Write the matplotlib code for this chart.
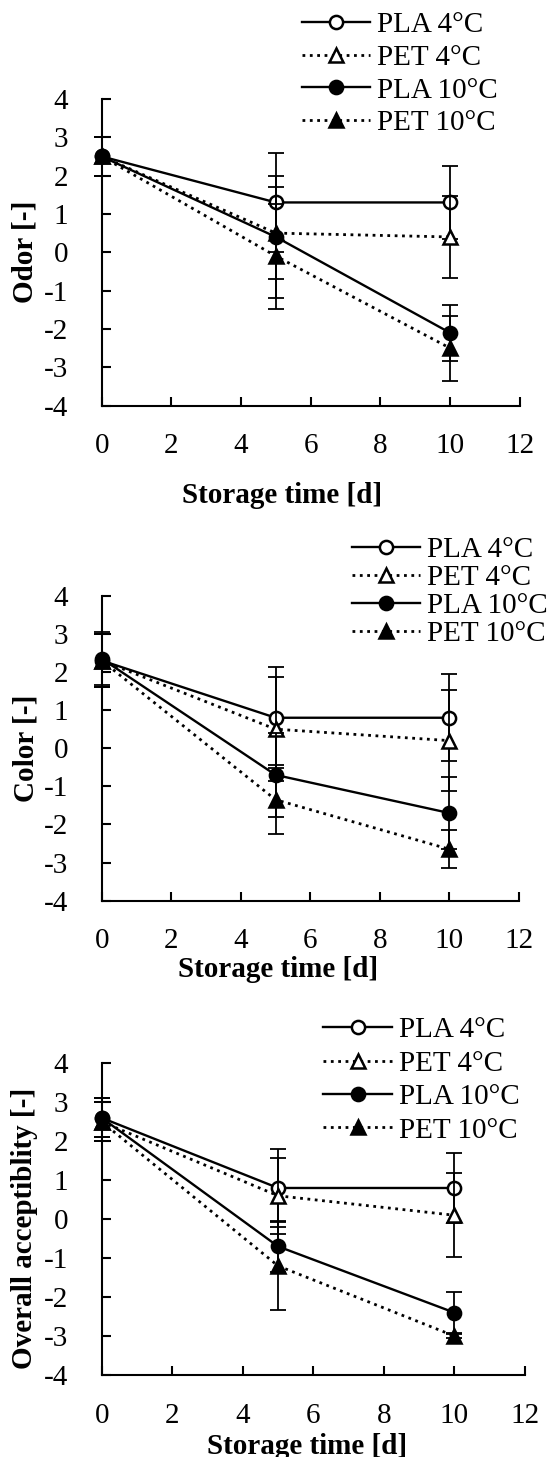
import matplotlib
matplotlib.use("Agg")
import matplotlib.pyplot as plt

plt.rcParams["font.family"] = ["Liberation Serif", "DejaVu Serif"]
plt.rcParams["axes.unicode_minus"] = False

days = [0, 5, 10]
series_labels = ["PLA 4°C", "PET 4°C", "PLA 10°C", "PET 10°C"]

# odor scores and standard deviations
odor_pla4 = [2.5, 1.3, 1.3]
odor_pla4_sd = [0.5, 1.3, 0.95]
odor_pet4 = [2.5, 0.5, 0.4]
odor_pet4_sd = [0.5, 1.2, 1.08]
odor_pla10 = [2.5, 0.4, -2.1]
odor_pla10_sd = [0.5, 1.6, 0.73]
odor_pet10 = [2.5, -0.1, -2.5]
odor_pet10_sd = [0.5, 1.37, 0.85]

# color scores
color_pla4 = [2.3, 0.8, 0.8]
color_pla4_sd = [0.7, 1.32, 1.14]
color_pet4 = [2.3, 0.5, 0.2]
color_pet4_sd = [0.7, 1.37, 1.32]
color_pla10 = [2.35, -0.7, -1.7]
color_pla10_sd = [0.7, 1.1, 0.95]
color_pet10 = [2.3, -1.35, -2.65]
color_pet10_sd = [0.7, 0.9, 0.5]

# overall acceptability scores
overall_pla4 = [2.6, 0.8, 0.8]
overall_pla4_sd = [0.5, 1.0, 0.9]
overall_pet4 = [2.5, 0.6, 0.1]
overall_pet4_sd = [0.5, 0.97, 1.08]
overall_pla10 = [2.6, -0.7, -2.4]
overall_pla10_sd = [0.5, 0.65, 0.52]
overall_pet10 = [2.5, -1.2, -3.0]
overall_pet10_sd = [0.5, 1.13, 0.05]

styles = [
    dict(ls="-", lw=1.7, marker="o", mfc="white"),
    dict(ls=":", lw=2.0, marker="^", mfc="white"),
    dict(ls="-", lw=1.7, marker="o", mfc="black"),
    dict(ls=":", lw=2.0, marker="^", mfc="black"),
]

FS = 21

fig = plt.figure(figsize=(5.5, 14.57), dpi=100)

panels = [
    dict(rect=(0.1849, 0.7216, 0.760, 0.2105), ylabel="Odor [-]",
         data=[(odor_pla4, odor_pla4_sd), (odor_pet4, odor_pet4_sd),
               (odor_pla10, odor_pla10_sd), (odor_pet10, odor_pet10_sd)],
         leg=(0.549, 1 - 12 / 1457), spacing=0.21,
         xlab=(0.431, -0.25), ylab=(-0.15, 0.5)),
    dict(rect=(0.1849, 0.3818, 0.7587, 0.2093), ylabel="Color [-]",
         data=[(color_pla4, color_pla4_sd), (color_pet4, color_pet4_sd),
               (color_pla10, color_pla10_sd), (color_pet10, color_pet10_sd)],
         leg=(0.6395, 1 - 537 / 1457), spacing=0.05,
         xlab=(0.4225, -0.18), ylab=(-0.15, 0.5)),
    dict(rect=(0.1849, 0.0563, 0.7696, 0.2139), ylabel="Overall acceptiblity [-]",
         data=[(overall_pla4, overall_pla4_sd), (overall_pet4, overall_pet4_sd),
               (overall_pla10, overall_pla10_sd), (overall_pet10, overall_pet10_sd)],
         leg=(0.588, 1 - 1017 / 1457), spacing=0.24,
         xlab=(0.485, -0.185), ylab=(-0.15, 0.47)),
]

for p in panels:
    ax = fig.add_axes(p["rect"])
    handles = []
    for (vals, sd), st, lab in zip(p["data"], styles, series_labels):
        ax.errorbar(days, vals, yerr=sd, fmt="none", ecolor="black",
                    elinewidth=1.3, capsize=5.7, capthick=1.3, clip_on=False)
        h, = ax.plot(days, vals, color="black", ls=st["ls"], lw=st["lw"],
                     marker=st["marker"], ms=9.5, mfc=st["mfc"], mec="black",
                     mew=1.8, clip_on=False, label=lab)
        handles.append(h)

    ax.set_xlim(0, 12)
    ax.set_ylim(-4, 4)
    ax.set_xticks(range(0, 13, 2))
    ax.set_yticks(range(-4, 5))
    for side in ("top", "right"):
        ax.spines[side].set_visible(False)
    for side in ("left", "bottom"):
        ax.spines[side].set_linewidth(1.5)
    ax.tick_params(direction="in", length=6.3, width=1.5, labelsize=FS)
    ax.tick_params(axis="x", pad=20)
    ax.tick_params(axis="y", pad=24)

    ax.set_xlabel("Storage time [d]", fontsize=FS, fontweight="bold")
    ax.xaxis.set_label_coords(*p["xlab"])
    ax.set_ylabel(p["ylabel"], fontsize=FS, fontweight="bold")
    ax.yaxis.set_label_coords(*p["ylab"])

    fig.legend(handles=handles, loc="upper left", bbox_to_anchor=p["leg"],
               frameon=False, fontsize=FS, handlelength=2.34,
               handletextpad=0.24, borderpad=0, borderaxespad=0,
               labelspacing=p["spacing"])

fig.savefig("out.png", dpi=100)
